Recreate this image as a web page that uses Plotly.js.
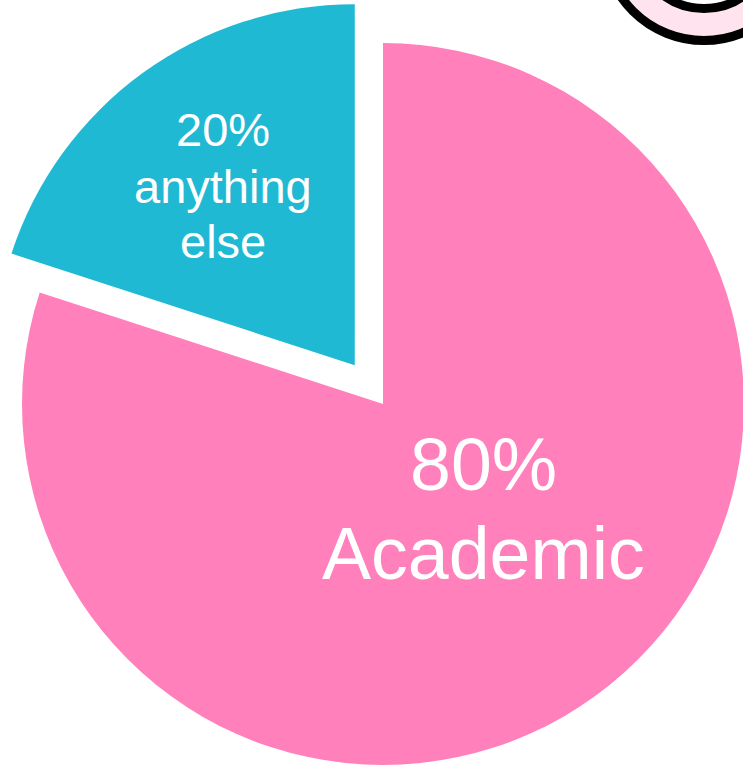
<!DOCTYPE html>
<html>
<head>
<meta charset="utf-8">
<script src="https://cdn.plot.ly/plotly-3.0.1.min.js"></script>
<style>
  html, body { margin: 0; padding: 0; width: 743px; height: 766px; overflow: hidden; background: #fff; }
  #chart { position: absolute; left: -26px; top: -5px; width: 818px; height: 818px; }
</style>
</head>
<body>
<div id="chart"></div>
<script>
// ---- data ----
const labels = ['Academic', 'anything else'];
const values = [80, 20];
const sliceColors = ['#FF80BB', '#20B9D4'];
const pulls = [0, 0.133];

// ---- layout helpers (page pixel -> paper) ----
const W = 818, H = 818, OFFX = -26, OFFY = -5;
const px = x => (x - OFFX) / W;
const py = y => 1 - (y - OFFY) / H;

const total = values.reduce((a, b) => a + b, 0);
const pct = values.map(v => Math.round(v / total * 100) + '%');

// text placement per slice (page px): center x, first line y, line gap, font size
const textSpec = [
  { x: 483, y: 464, gap: 89, size: 73.5 },
  { x: 223, y: 130, gap: 56, size: 47 }
];

const annotations = [];
labels.forEach((lab, i) => {
  const lines = [pct[i]].concat(lab.split(' '));
  const s = textSpec[i];
  lines.forEach((t, j) => {
    annotations.push({
      text: t, showarrow: false, xref: 'paper', yref: 'paper',
      x: px(s.x), y: py(s.y + j * s.gap), xanchor: 'center', yanchor: 'middle',
      font: { family: 'Liberation Sans, Arial, sans-serif', size: s.size, color: '#ffffff' }
    });
  });
});

function circ(cx, cy, r, fill) {
  return {
    type: 'circle', xref: 'paper', yref: 'paper',
    x0: px(cx - r), x1: px(cx + r), y0: py(cy + r), y1: py(cy - r),
    line: { color: '#000000', width: 9 }, fillcolor: fill, layer: 'above'
  };
}

const data = [{
  type: 'pie',
  labels: labels,
  values: values,
  sort: false,
  direction: 'clockwise',
  rotation: 0,
  pull: pulls,
  marker: { colors: sliceColors, line: { width: 0 } },
  textinfo: 'none',
  hoverinfo: 'none',
  showlegend: false,
  domain: { x: [0, 1], y: [0, 1] }
}];

const layout = {
  width: W, height: H,
  margin: { l: 0, r: 0, t: 0, b: 0, pad: 0 },
  paper_bgcolor: '#ffffff',
  showlegend: false,
  annotations: annotations,
  shapes: [
    circ(704, -60, 100.5, '#FFE4F0'),
    circ(704, -60, 68.5, '#ffffff')
  ]
};

Plotly.newPlot('chart', data, layout, { staticPlot: true, displayModeBar: false });
</script>
</body>
</html>
